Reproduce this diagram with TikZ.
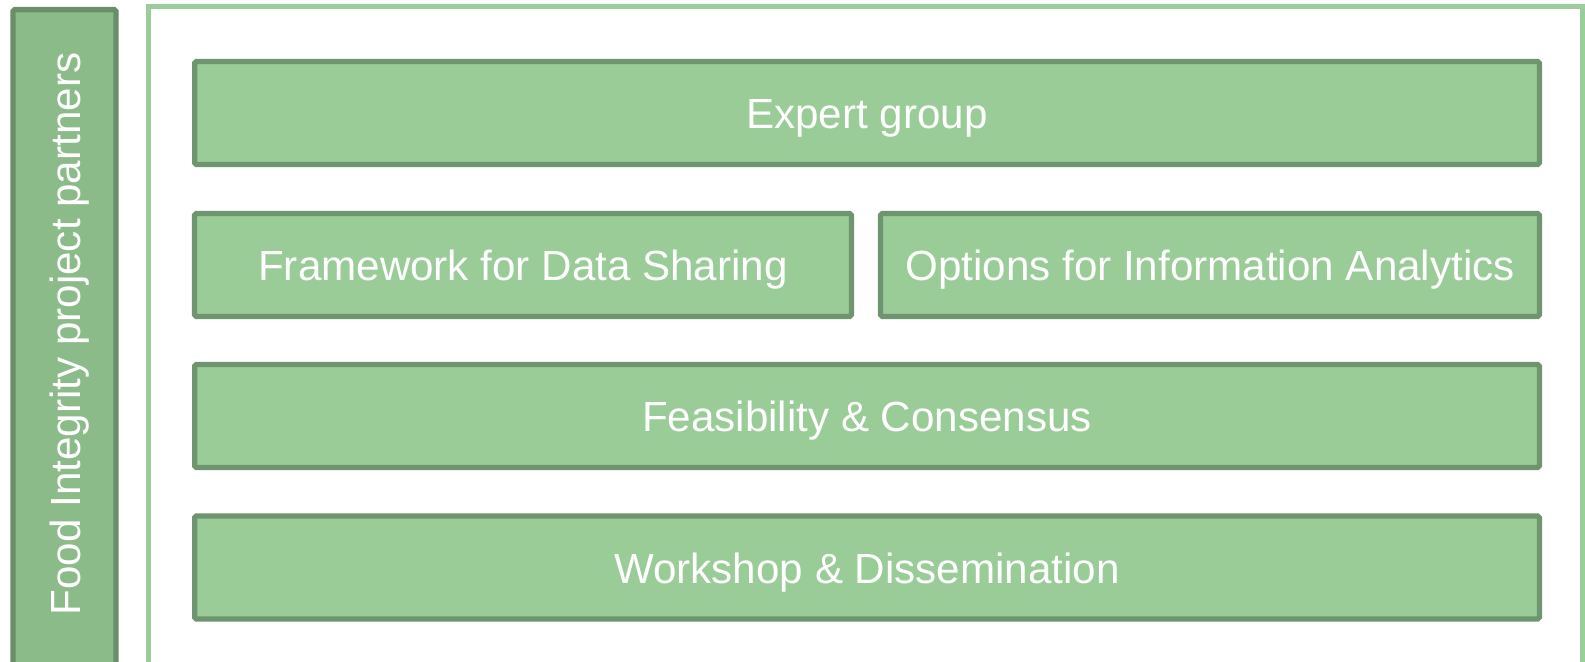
\documentclass[tikz,border=0pt]{standalone}
\usepackage{fontspec}
\setmainfont{Liberation Sans}
\usepackage{tikz}
\usetikzlibrary{positioning}

\definecolor{boxfill}{HTML}{9ACC98}
\definecolor{boxline}{HTML}{6E9470}
\definecolor{sidefill}{HTML}{8BBB89}
\definecolor{sideline}{HTML}{6A8E6A}
\definecolor{frameline}{HTML}{9ACD9A}

\begin{document}
\begin{tikzpicture}[x=0.02cm, y=-0.02cm]

	\tikzset{task box/.style={
			draw=boxline, fill=boxfill,
			line width=3pt, rounded corners=1pt,
			minimum height=2.06cm, inner sep=0pt,
			text=white, font=\fontsize{24}{28}\selectfont,
			text height=22.8pt, text depth=4.8pt
		}
	}

	\useasboundingbox (0,0) rectangle (1585,662);
	\clip (0,0) rectangle (1585,662);

	% partners bar and frame
	\node[draw=sideline, fill=sidefill, line width=3pt, rounded corners=1pt,
		minimum width=2.06cm, minimum height=14cm, anchor=north, inner sep=0pt] (partners) at (64.5,7) {};
	\node[rotate=90, text=white, font=\fontsize{24}{28}\selectfont,
		text height=22.8pt, text depth=4.8pt] (partnerstext) at (64.5,334) {Food Integrity project partners};
	\draw[frameline, line width=2.85pt] (148.5,700) |- (1582,6.8) -- (1582,700);

	% work packages
	\node[task box, minimum width=26.9cm] (expert) at (867,113) {Expert group};
	\node[task box, minimum width=13.14cm] (framework) at (523,265) {Framework for Data Sharing};
	\node[task box, minimum width=13.18cm] (options) at (1210,265) {Options for Information Analytics};
	\node[task box, minimum width=26.9cm] (feasibility) at (867,416) {Feasibility \& Consensus};
	\node[task box, minimum width=26.9cm] (workshop) at (867,567.5) {Workshop \& Dissemination};

\end{tikzpicture}
\end{document}
